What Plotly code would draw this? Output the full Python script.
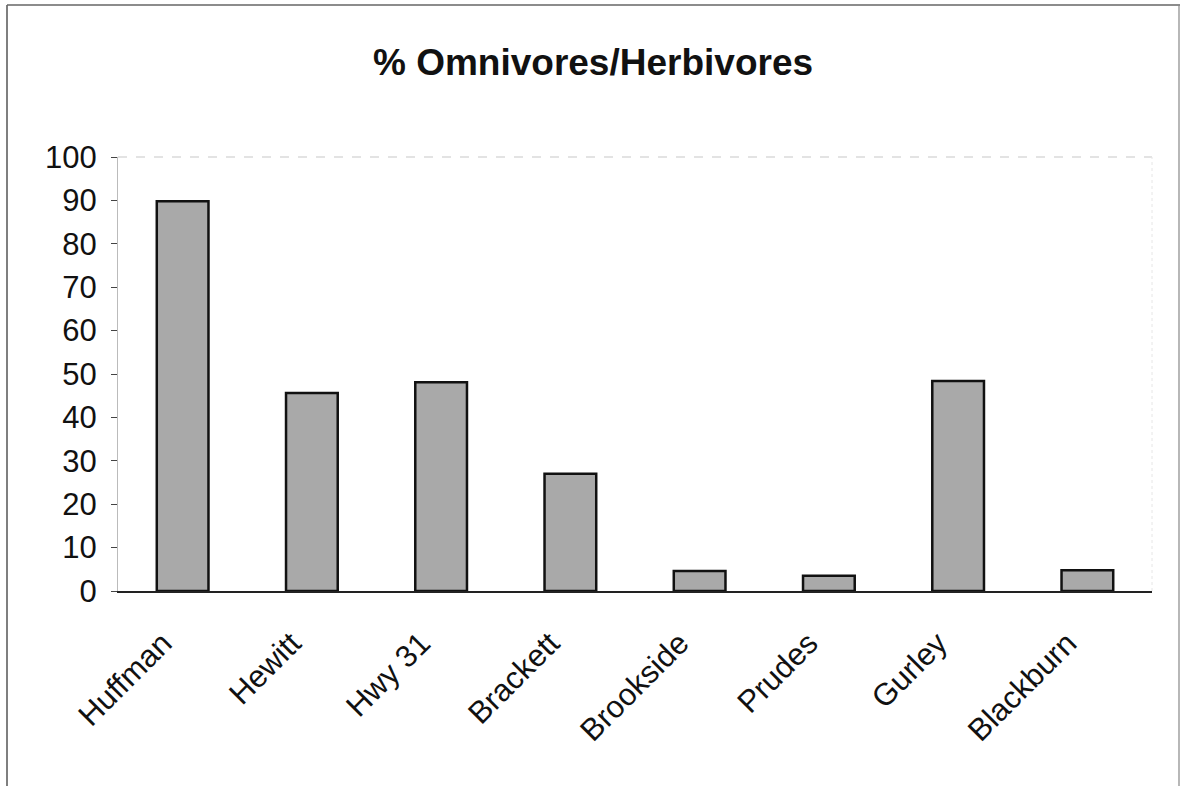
import plotly.graph_objects as go

sites = ["Huffman", "Hewitt", "Hwy 31", "Brackett", "Brookside", "Prudes", "Gurley", "Blackburn"]
pct_omni_herb = [89.8, 45.6, 48.1, 27.0, 4.6, 3.5, 48.4, 4.8]
y_ticks = list(range(0, 101, 10))

fig = go.Figure(
    go.Bar(
        x=sites,
        y=pct_omni_herb,
        marker=dict(color="#a9a9a9", line=dict(color="#111111", width=2.5)),
        width=0.4,
    )
)

L, R, T, B = 118, 29, 157, 195
W, H = 1181, 786
pw, ph = W - L - R, H - T - B

def px_x(p):
    return (p - L) / pw

def px_y(p):
    return (H - B - p) / ph

fig.update_layout(
    width=W,
    height=H,
    margin=dict(l=L, r=R, t=T, b=B),
    paper_bgcolor="white",
    plot_bgcolor="white",
    showlegend=False,
    title=dict(
        text="<b>% Omnivores/Herbivores</b>",
        x=593 / W,
        xref="container",
        xanchor="center",
        y=1 - 62 / H,
        yref="container",
        yanchor="middle",
        font=dict(family="Liberation Sans, Arial", size=37, color="#111111"),
    ),
    font=dict(family="Liberation Sans, Arial", color="#111111"),
    xaxis=dict(
        tickangle=-45,
        tickfont=dict(size=31),
        ticklabelshift=-20,
        ticklabelstandoff=20,
        showline=True,
        linecolor="#222222",
        linewidth=1.5,
        showgrid=False,
        ticks="",
    ),
    yaxis=dict(
        range=[0, 100],
        tickvals=y_ticks,
        tickfont=dict(size=31),
        ticks="outside",
        ticklen=6,
        tickcolor="#444444",
        ticklabelstandoff=8,
        showline=True,
        linecolor="#bbbbbb",
        linewidth=1,
        showgrid=False,
        zeroline=False,
    ),
    shapes=[
        dict(type="line", xref="paper", yref="paper", x0=0, x1=1, y0=1, y1=1,
             line=dict(color="#c8c8c8", width=1.2, dash="dash")),
        dict(type="line", xref="paper", yref="paper", x0=1, x1=1, y0=0, y1=1,
             line=dict(color="#e6e6e6", width=1, dash="dot")),
        dict(type="line", xref="paper", yref="paper", x0=px_x(7), x1=px_x(7), y0=px_y(5), y1=px_y(H),
             line=dict(color="#555555", width=1.5)),
        dict(type="line", xref="paper", yref="paper", x0=px_x(7), x1=px_x(1180), y0=px_y(5), y1=px_y(5),
             line=dict(color="#666666", width=1.5)),
        dict(type="line", xref="paper", yref="paper", x0=px_x(1179), x1=px_x(1179), y0=px_y(5), y1=px_y(H),
             line=dict(color="#888888", width=1.2)),
    ],
)

fig.write_html(
    "out.html",
    config={"displayModeBar": False},
    post_script="document.body.style.margin='0';document.body.style.overflow='hidden';",
)
